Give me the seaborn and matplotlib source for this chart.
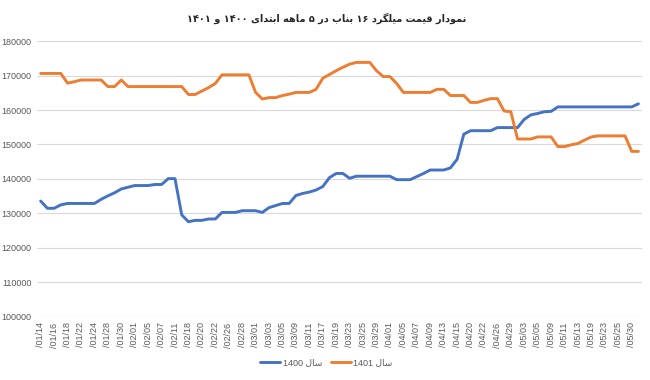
import matplotlib
matplotlib.use("Agg")
import matplotlib.pyplot as plt
import seaborn as sns
import numpy as np
import pandas as pd

# rebar price (Bonab 16mm) - first 5 months of 1400 and 1401
tick_labels = ['/01/14', '/01/16', '/01/18', '/01/22', '/01/24', '/01/28', '/01/30',
               '/02/01', '/02/05', '/02/07', '/02/11', '/02/18', '/02/20', '/02/22',
               '/02/26', '/02/28', '/03/01', '/03/03', '/03/05', '/03/09', '/03/11',
               '/03/17', '/03/19', '/03/23', '/03/25', '/03/29', '/04/01', '/04/05',
               '/04/07', '/04/09', '/04/13', '/04/15', '/04/20', '/04/22', '/04/26',
               '/04/29', '/05/03', '/05/05', '/05/09', '/05/11', '/05/13', '/05/19',
               '/05/23', '/05/25', '/05/30']

price_1400 = [133600, 131500, 131500, 132500, 132900, 132900, 132900, 132900, 132900, 134100,
              135100, 136000, 137100, 137600, 138100, 138100, 138100, 138400, 138400, 140100,
              140100, 129600, 127600, 128000, 128000, 128400, 128400, 130300, 130300, 130300,
              130800, 130800, 130800, 130300, 131700, 132300, 132900, 132900, 135200, 135800,
              136200, 136800, 137800, 140400, 141600, 141600, 140200, 140800, 140800, 140800,
              140800, 140800, 140800, 139800, 139800, 139800, 140700, 141600, 142600, 142600,
              142600, 143200, 145700, 153000, 154000, 154000, 154000, 154000, 154900, 154900,
              154900, 154900, 157300, 158600, 159000, 159500, 159600, 160900, 160900, 160900,
              160900, 160900, 160900, 160900, 160900, 160900, 160900, 160900, 160900, 161800]

price_1401 = [170600, 170600, 170600, 170600, 167800, 168200, 168700, 168700, 168700, 168700,
              166800, 166800, 168700, 166800, 166800, 166800, 166800, 166800, 166800, 166800,
              166800, 166800, 164500, 164500, 165500, 166500, 167700, 170200, 170200, 170200,
              170200, 170200, 165100, 163200, 163600, 163600, 164200, 164600, 165100, 165100,
              165100, 166000, 169200, 170300, 171400, 172400, 173300, 173800, 173800, 173800,
              171400, 169700, 169700, 167700, 165100, 165100, 165100, 165100, 165100, 166000,
              166000, 164200, 164200, 164200, 162200, 162200, 162800, 163300, 163300, 159700,
              159500, 151600, 151600, 151600, 152200, 152200, 152200, 149400, 149400, 149900,
              150300, 151300, 152200, 152500, 152500, 152500, 152500, 152500, 148000, 148000]

title_fa = 'نمودار قیمت میلگرد ۱۶ بناب در ۵ ماهه ابتدای ۱۴۰۰ و ۱۴۰۱'
series_names = ['سال 1400', 'سال 1401']
colors = ['#4472C4', '#ED7D31']

# matplotlib has no arabic shaping, so do joining + visual order by hand
FORMS = {
    'ا': (0xFE8D, 0xFE8E, None, None),
    'د': (0xFEA9, 0xFEAA, None, None),
    'ر': (0xFEAD, 0xFEAE, None, None),
    'و': (0xFEED, 0xFEEE, None, None),
    'ب': (0xFE8F, 0xFE90, 0xFE91, 0xFE92),
    'ت': (0xFE95, 0xFE96, 0xFE97, 0xFE98),
    'س': (0xFEB1, 0xFEB2, 0xFEB3, 0xFEB4),
    'ق': (0xFED5, 0xFED6, 0xFED7, 0xFED8),
    'ل': (0xFEDD, 0xFEDE, 0xFEDF, 0xFEE0),
    'م': (0xFEE1, 0xFEE2, 0xFEE3, 0xFEE4),
    'ن': (0xFEE5, 0xFEE6, 0xFEE7, 0xFEE8),
    'ه': (0xFEE9, 0xFEEA, 0xFEEB, 0xFEEC),
    'ی': (0xFBFC, 0xFBFD, 0xFBFE, 0xFBFF),
    'گ': (0xFB92, 0xFB93, 0xFB94, 0xFB95),
}


def join_word(w):
    res = []
    for i, ch in enumerate(w):
        f = FORMS.get(ch)
        if f is None:
            res.append(ch)
            continue
        prev = w[i - 1] if i > 0 else None
        nxt = w[i + 1] if i + 1 < len(w) else None
        link_prev = prev in FORMS and FORMS[prev][2] is not None
        link_next = nxt in FORMS and f[2] is not None
        if link_prev and link_next:
            form = f[3]
        elif link_prev:
            form = f[1]
        elif link_next:
            form = f[2]
        else:
            form = f[0]
        res.append(chr(form))
    return ''.join(res)


def fa(text):
    out = []
    for w in text.split(' '):
        if any(ch in FORMS for ch in w):
            out.append(join_word(w)[::-1])
        else:
            out.append(w)
    return ' '.join(out[::-1])


sns.set_theme(style="whitegrid")
plt.rcParams['font.family'] = ['Liberation Sans', 'DejaVu Sans']

n = len(price_1400)
df = pd.DataFrame({
    'idx': np.concatenate([np.arange(n), np.arange(n)]),
    'price': price_1400 + price_1401,
    'series': [series_names[0]] * n + [series_names[1]] * n,
})

fig = plt.figure(figsize=(6.5, 3.8), dpi=100)
ax = fig.add_axes([0.0574, 0.166, 0.9300, 0.726])
ax.set_facecolor('white')

sns.lineplot(data=df, x='idx', y='price', hue='series', palette=colors,
             linewidth=2.1, ax=ax, legend=False)

ax.set_xlim(-0.5, n - 0.5)
ax.set_ylim(100000, 180000)
ax.set_yticks(range(100000, 180001, 10000))
ax.set_yticklabels([str(v) for v in range(100000, 180001, 10000)], fontsize=6.5, color='#595959')
ax.set_xticks(range(0, 2 * len(tick_labels), 2))
ax.set_xticklabels(tick_labels, rotation=90, fontsize=6.5, color='#595959')
ax.tick_params(axis='both', length=0, pad=4)
ax.grid(axis='y', color='#D9D9D9', linewidth=0.8)
ax.grid(axis='x', visible=False)
ax.set_xlabel('')
ax.set_ylabel('')
for s in ax.spines.values():
    s.set_visible(False)

fig.text(0.502, 0.953, fa(title_fa), ha='center', va='center', fontsize=7,
         fontweight='bold', family=['DejaVu Sans'], color='#262626')

handles = [plt.Line2D([], [], color=c, linewidth=2.1) for c in colors]
fig.legend(handles, [fa(s) for s in series_names], loc='center', ncol=2,
           bbox_to_anchor=(0.502, 0.045), frameon=False, fontsize=6.5,
           handlelength=2.2, handletextpad=0.3, columnspacing=1.0,
           labelcolor='#595959')

fig.savefig('out.png', dpi=100, facecolor='white')
plt.close(fig)
